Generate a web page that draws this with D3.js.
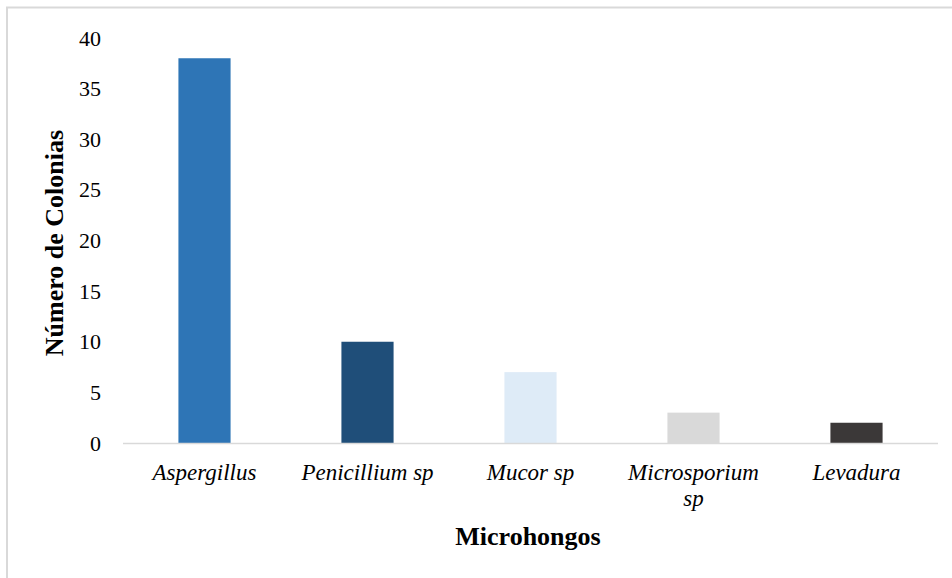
<!DOCTYPE html>
<html><head><meta charset="utf-8">
<script src="https://cdn.jsdelivr.net/npm/d3@7"></script>
<style>body{margin:0;background:#fff}svg{display:block}text{font-family:"Liberation Serif","Times New Roman",serif}</style>
</head><body>
<svg id="c" width="952" height="578"></svg>
<script>
const categories = [["Aspergillus"], ["Penicillium sp"], ["Mucor sp"], ["Microsporium", "sp"], ["Levadura"]];
const values = [38, 10, 7, 3, 2];
const colors = ["#2E75B6", "#1F4E79", "#DEEBF7", "#D9D9D9", "#3B3838"];
const yTicks = [0, 5, 10, 15, 20, 25, 30, 35, 40];
const yTitle = "Número de Colonias";
const xTitle = "Microhongos";

(function () {
const svg = d3.select("#c");
svg.append("rect").attr("x", 7).attr("y", 7.5).attr("width", 1000).attr("height", 1000)
  .attr("fill", "none").attr("stroke", "#d9d9d9").attr("stroke-width", 2);

const pl = 123, pr = 938, pt = 38, pb = 443;
const x = d3.scaleBand().domain(categories.map((d, i) => i)).range([pl, pr]).paddingInner(0.68).paddingOuter(0.34);
const y = d3.scaleLinear().domain([0, 40]).range([pb, pt]);

svg.selectAll("rect.bar").data(values).enter().append("rect").attr("class", "bar")
  .attr("x", (d, i) => x(i)).attr("width", x.bandwidth())
  .attr("y", d => y(d)).attr("height", d => y(0) - y(d))
  .attr("fill", (d, i) => colors[i]);

svg.append("line").attr("x1", pl).attr("x2", pr).attr("y1", pb + 0.5).attr("y2", pb + 0.5)
  .attr("stroke", "#d9d9d9").attr("stroke-width", 1.5);

const yAxis = svg.append("g").attr("transform", `translate(${pl},0)`)
  .call(d3.axisLeft(y).tickValues(yTicks).tickSize(0).tickPadding(22));
yAxis.attr("font-family", null).attr("font-size", null);
yAxis.select(".domain").remove();
yAxis.selectAll("text").attr("font-size", 22).attr("fill", "#000");

const xl = svg.append("g");
categories.forEach((lines, i) => {
  const cx = x(i) + x.bandwidth() / 2;
  const t = xl.append("text").attr("x", cx).attr("y", 480).attr("text-anchor", "middle")
    .attr("font-size", 23).attr("font-style", "italic").attr("fill", "#000");
  lines.forEach((s, j) => t.append("tspan").attr("x", cx).attr("dy", j ? 26 : 0).text(s));
});

svg.append("text").attr("transform", `translate(63,243) rotate(-90)`)
  .attr("text-anchor", "middle").attr("font-size", 26).attr("font-weight", "bold").attr("fill", "#000").text(yTitle);
svg.append("text").attr("x", 528).attr("y", 545).attr("text-anchor", "middle")
  .attr("font-size", 26).attr("font-weight", "bold").attr("fill", "#000").text(xTitle);
})();
</script>
</body></html>
